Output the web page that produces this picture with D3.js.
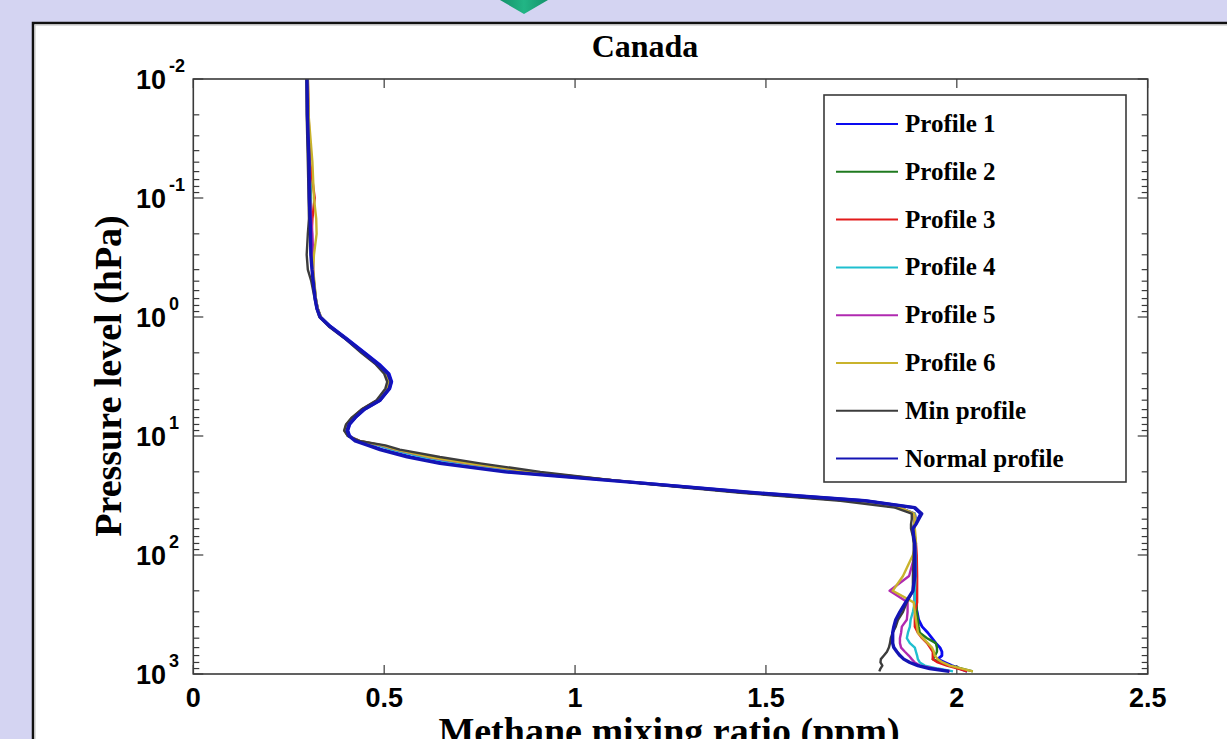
<!DOCTYPE html>
<html>
<head>
<meta charset="utf-8">
<script src="https://cdn.jsdelivr.net/npm/d3@7"></script>
<style>
  html, body { margin: 0; padding: 0; background: #d4d4f2; overflow: hidden; }
  svg { display: block; }
</style>
</head>
<body>
<svg id="chart" width="1227" height="739"></svg>
<script>
// ---------------- DATA ----------------
const title = "Canada";
const xLabel = "Methane mixing ratio (ppm)";
const yLabel = "Pressure level (hPa)";
const xTicks = [0, 0.5, 1, 1.5, 2, 2.5];
const xTickLabels = ["0", "0.5", "1", "1.5", "2", "2.5"];
const yTicks = [0.01, 0.1, 1, 10, 100, 1000];
const yTickExps = ["-2", "-1", "0", "1", "2", "3"];

const seriesNames = ["Profile 1", "Profile 2", "Profile 3", "Profile 4", "Profile 5", "Profile 6", "Min profile", "Normal profile"];
const seriesColors = ["#0a0af0", "#1f7a1f", "#e21b1b", "#1fbfcf", "#b02ab0", "#c9b32c", "#3c3c3c", "#1414b4"];

// pressure levels (hPa)
const pressure = [0.01,0.02,0.05,0.1,0.15,0.2,0.3,0.4,0.5,0.7,
  0.85,1,1.2,1.5,2,2.5,3,3.5,4,5,
  6,7,8,9,10,11,12,13,15,17,
  20,25,30,35,40,45,50,55,60,70,
  80,100,150,200,250,300,350,400,450,500,
  550,600,650,700,750,800,850,900,950];

const profile1 = [0.299,0.300,0.304,0.305,0.307,0.308,0.309,0.312,0.315,0.320,
  0.325,0.333,0.360,0.400,0.450,0.488,0.513,0.520,0.515,0.490,
  0.448,0.425,0.410,0.405,0.410,0.428,0.462,0.495,0.570,0.660,
  0.830,1.190,1.475,1.760,1.888,1.905,1.898,1.892,1.886,1.888,
  1.890,1.891,1.890,1.890,1.890,1.896,1.900,1.909,1.924,1.935,
  1.945,1.956,1.961,1.961,1.950,1.969,1.987,2.008,2.027];
const profile2 = [0.300,0.301,0.305,0.308,0.309,0.309,0.310,0.312,0.315,0.320,
  0.325,0.333,0.358,0.398,0.445,0.482,0.506,0.514,0.508,0.484,
  0.442,0.418,0.403,0.398,0.405,0.432,0.490,0.525,0.610,0.710,
  0.880,1.180,1.450,1.720,1.850,1.888,1.890,1.888,1.886,1.890,
  1.892,1.892,1.893,1.895,1.895,1.895,1.898,1.900,1.903,1.922,
  1.945,1.948,1.948,1.943,1.937,1.956,1.982,2.013,2.042];
const profile3 = [0.300,0.302,0.306,0.318,0.312,0.310,0.311,0.313,0.316,0.321,
  0.326,0.334,0.357,0.398,0.444,0.480,0.505,0.513,0.507,0.483,
  0.442,0.418,0.402,0.398,0.406,0.434,0.488,0.522,0.605,0.705,
  0.875,1.180,1.450,1.720,1.850,1.890,1.893,1.890,1.887,1.890,
  1.893,1.895,1.896,1.896,1.896,1.890,1.890,1.890,1.898,1.909,
  1.922,1.930,1.937,1.937,1.937,1.950,1.974,2.003,2.027];
const profile4 = [0.299,0.301,0.304,0.307,0.308,0.309,0.311,0.313,0.316,0.321,
  0.326,0.334,0.358,0.398,0.445,0.481,0.506,0.514,0.508,0.484,
  0.443,0.419,0.403,0.399,0.407,0.433,0.485,0.520,0.600,0.700,
  0.870,1.180,1.450,1.720,1.850,1.890,1.892,1.889,1.886,1.889,
  1.891,1.892,1.892,1.890,1.890,1.885,1.879,1.877,1.872,1.869,
  1.877,1.890,1.893,1.896,1.898,1.903,1.916,1.950,1.990];
const profile5 = [0.299,0.300,0.304,0.306,0.309,0.312,0.314,0.314,0.315,0.320,
  0.325,0.333,0.357,0.397,0.444,0.480,0.505,0.512,0.506,0.482,
  0.441,0.417,0.401,0.397,0.406,0.436,0.493,0.530,0.615,0.715,
  0.885,1.180,1.450,1.720,1.850,1.888,1.890,1.888,1.886,1.889,
  1.890,1.890,1.875,1.824,1.871,1.871,1.869,1.856,1.854,1.851,
  1.851,1.854,1.864,1.874,1.882,1.890,1.903,1.942,1.982];
const profile6 = [0.300,0.302,0.312,0.316,0.322,0.323,0.316,0.314,0.317,0.321,
  0.326,0.334,0.357,0.397,0.444,0.481,0.505,0.513,0.507,0.483,
  0.441,0.416,0.401,0.396,0.405,0.436,0.495,0.532,0.620,0.720,
  0.890,1.180,1.450,1.720,1.850,1.888,1.890,1.888,1.890,1.892,
  1.893,1.885,1.859,1.832,1.887,1.890,1.893,1.896,1.898,1.911,
  1.924,1.935,1.940,1.942,1.950,1.963,1.982,2.013,2.042];
const minProfile = [0.296,0.297,0.300,0.302,0.303,0.300,0.297,0.300,0.309,0.318,
  0.323,0.330,0.355,0.395,0.440,0.478,0.500,0.508,0.503,0.480,
  0.440,0.415,0.400,0.395,0.405,0.435,0.503,0.541,0.646,0.751,
  0.909,1.171,1.433,1.695,1.838,1.882,1.882,1.880,1.880,1.885,
  1.887,1.887,1.885,1.885,1.869,1.859,1.846,1.840,1.832,1.827,
  1.825,1.822,1.817,1.809,1.801,1.800,1.805,1.800,1.797];
const normalProfile = [0.298,0.299,0.303,0.304,0.306,0.307,0.308,0.311,0.314,0.319,
  0.324,0.332,0.358,0.397,0.447,0.484,0.510,0.518,0.513,0.489,
  0.447,0.424,0.408,0.403,0.408,0.424,0.458,0.489,0.560,0.646,
  0.817,1.183,1.471,1.759,1.890,1.908,1.900,1.893,1.885,1.887,
  1.890,1.890,1.890,1.885,1.866,1.851,1.840,1.835,1.832,1.832,
  1.832,1.835,1.843,1.851,1.861,1.877,1.898,1.929,1.980];

const seriesValues = [profile1, profile2, profile3, profile4, profile5, profile6, minProfile, normalProfile];

// ---------------- DRAWING ----------------
const svg = d3.select("#chart");
const W = 1227, H = 739;
const plot = { left: 193.3, right: 1147.7, top: 79, bottom: 674 };

// background panel
svg.append("rect").attr("x", 0).attr("y", 0).attr("width", W).attr("height", H).attr("fill", "#d4d4f2");
const defs = svg.append("defs");
const grad = defs.append("linearGradient").attr("id", "dgrad").attr("x1", 0).attr("x2", 1).attr("y1", 0).attr("y2", 0);
grad.append("stop").attr("offset", "0%").attr("stop-color", "#14926a");
grad.append("stop").attr("offset", "50%").attr("stop-color", "#22b585");
grad.append("stop").attr("offset", "100%").attr("stop-color", "#14926a");
svg.append("polygon")
  .attr("points", [[500, 0], [548, 0], [524, 14]].map(p => p.join(",")).join(" "))
  .attr("fill", "url(#dgrad)");
svg.append("rect").attr("x", 32).attr("y", 22).attr("width", W - 32).attr("height", H - 22).attr("fill", "#ffffff");
svg.append("path").attr("d", `M33,${H} L33,23 L${W},23`).attr("fill", "none").attr("stroke", "#111").attr("stroke-width", 2.5);
svg.append("path").attr("d", `M35,${H} L35,25 L${W},25`).attr("fill", "none").attr("stroke", "#bbb").attr("stroke-width", 1);

const x = d3.scaleLinear().domain([0, 2.5]).range([plot.left, plot.right]);
const y = d3.scaleLog().domain([0.01, 1000]).range([plot.top, plot.bottom]);

const axisColor = "#3a3a3a";

// minor / major y ticks (inside, both sides)
const yAll = y.ticks();
const yg = svg.append("g");
yAll.forEach(v => {
  const isMajor = Math.abs(Math.log10(v) - Math.round(Math.log10(v))) < 1e-9;
  const len = isMajor ? 10 : 6;
  const yy = y(v);
  yg.append("line").attr("x1", plot.left).attr("x2", plot.left + len).attr("y1", yy).attr("y2", yy)
    .attr("stroke", axisColor).attr("stroke-width", 1.2);
  yg.append("line").attr("x1", plot.right).attr("x2", plot.right - len).attr("y1", yy).attr("y2", yy)
    .attr("stroke", axisColor).attr("stroke-width", 1.2);
});
// x ticks inside top & bottom
xTicks.forEach(v => {
  const xx = x(v);
  yg.append("line").attr("x1", xx).attr("x2", xx).attr("y1", plot.bottom).attr("y2", plot.bottom - 9)
    .attr("stroke", axisColor).attr("stroke-width", 1.2);
  yg.append("line").attr("x1", xx).attr("x2", xx).attr("y1", plot.top).attr("y2", plot.top + 9)
    .attr("stroke", axisColor).attr("stroke-width", 1.2);
});

// lines
const line = d3.line()
  .x(d => x(d[0]))
  .y(d => y(d[1]));

svg.append("clipPath").attr("id", "plotclip").append("rect")
  .attr("x", plot.left).attr("y", plot.top - 2).attr("width", plot.right - plot.left).attr("height", plot.bottom - plot.top + 2);

const widths = [2.8, 2.4, 2.4, 2.4, 2.4, 2.4, 2.4, 3.4];
const lg = svg.append("g").attr("clip-path", "url(#plotclip)");
seriesValues.forEach((vals, i) => {
  const pts = vals.map((v, k) => [v, pressure[k]]);
  lg.append("path")
    .attr("d", line(pts))
    .attr("fill", "none")
    .attr("stroke", seriesColors[i])
    .attr("stroke-width", widths[i])
    .attr("stroke-linejoin", "round");
});

// axes box
svg.append("rect").attr("x", plot.left).attr("y", plot.top)
  .attr("width", plot.right - plot.left).attr("height", plot.bottom - plot.top)
  .attr("fill", "none").attr("stroke", axisColor).attr("stroke-width", 1.6);

// x tick labels
const sansFont = "'Liberation Sans', Arial, sans-serif";
const serifFont = "'Liberation Serif', 'Times New Roman', serif";
xTicks.forEach((v, i) => {
  svg.append("text").attr("x", x(v)).attr("y", 707)
    .attr("text-anchor", "middle")
    .attr("font-family", sansFont).attr("font-weight", "bold").attr("font-size", 27)
    .attr("fill", "#000").text(xTickLabels[i]);
});
// y tick labels (10^n)
yTicks.forEach((v, i) => {
  const yy = y(v);
  svg.append("text").attr("x", 166).attr("y", yy + 10)
    .attr("text-anchor", "end")
    .attr("font-family", sansFont).attr("font-weight", "bold").attr("font-size", 27)
    .attr("fill", "#000").text("10");
  svg.append("text").attr("x", 169).attr("y", yy - 7)
    .attr("text-anchor", "start")
    .attr("font-family", sansFont).attr("font-weight", "bold").attr("font-size", 18)
    .attr("fill", "#000").text(yTickExps[i]);
});

// title and axis labels
svg.append("text").attr("x", 645).attr("y", 57).attr("text-anchor", "middle")
  .attr("font-family", serifFont).attr("font-weight", "bold").attr("font-size", 32)
  .attr("fill", "#000").text(title);
svg.append("text").attr("x", 669).attr("y", 744).attr("text-anchor", "middle")
  .attr("font-family", serifFont).attr("font-weight", "bold").attr("font-size", 38)
  .attr("fill", "#000").text(xLabel);
svg.append("text").attr("transform", "translate(121,376) rotate(-90)").attr("text-anchor", "middle")
  .attr("font-family", serifFont).attr("font-weight", "bold").attr("font-size", 38)
  .attr("fill", "#000").text(yLabel);

// legend
const leg = { left: 824, top: 95, right: 1126, bottom: 482 };
svg.append("rect").attr("x", leg.left).attr("y", leg.top)
  .attr("width", leg.right - leg.left).attr("height", leg.bottom - leg.top)
  .attr("fill", "#fff").attr("stroke", axisColor).attr("stroke-width", 1.6);
seriesNames.forEach((name, i) => {
  const cy = 124 + i * 47.8;
  svg.append("line").attr("x1", 836).attr("x2", 898).attr("y1", cy).attr("y2", cy)
    .attr("stroke", seriesColors[i]).attr("stroke-width", 2);
  svg.append("text").attr("x", 905).attr("y", cy + 8)
    .attr("font-family", serifFont).attr("font-weight", "bold").attr("font-size", 25)
    .attr("fill", "#000").text(name);
});
</script>
</body>
</html>
